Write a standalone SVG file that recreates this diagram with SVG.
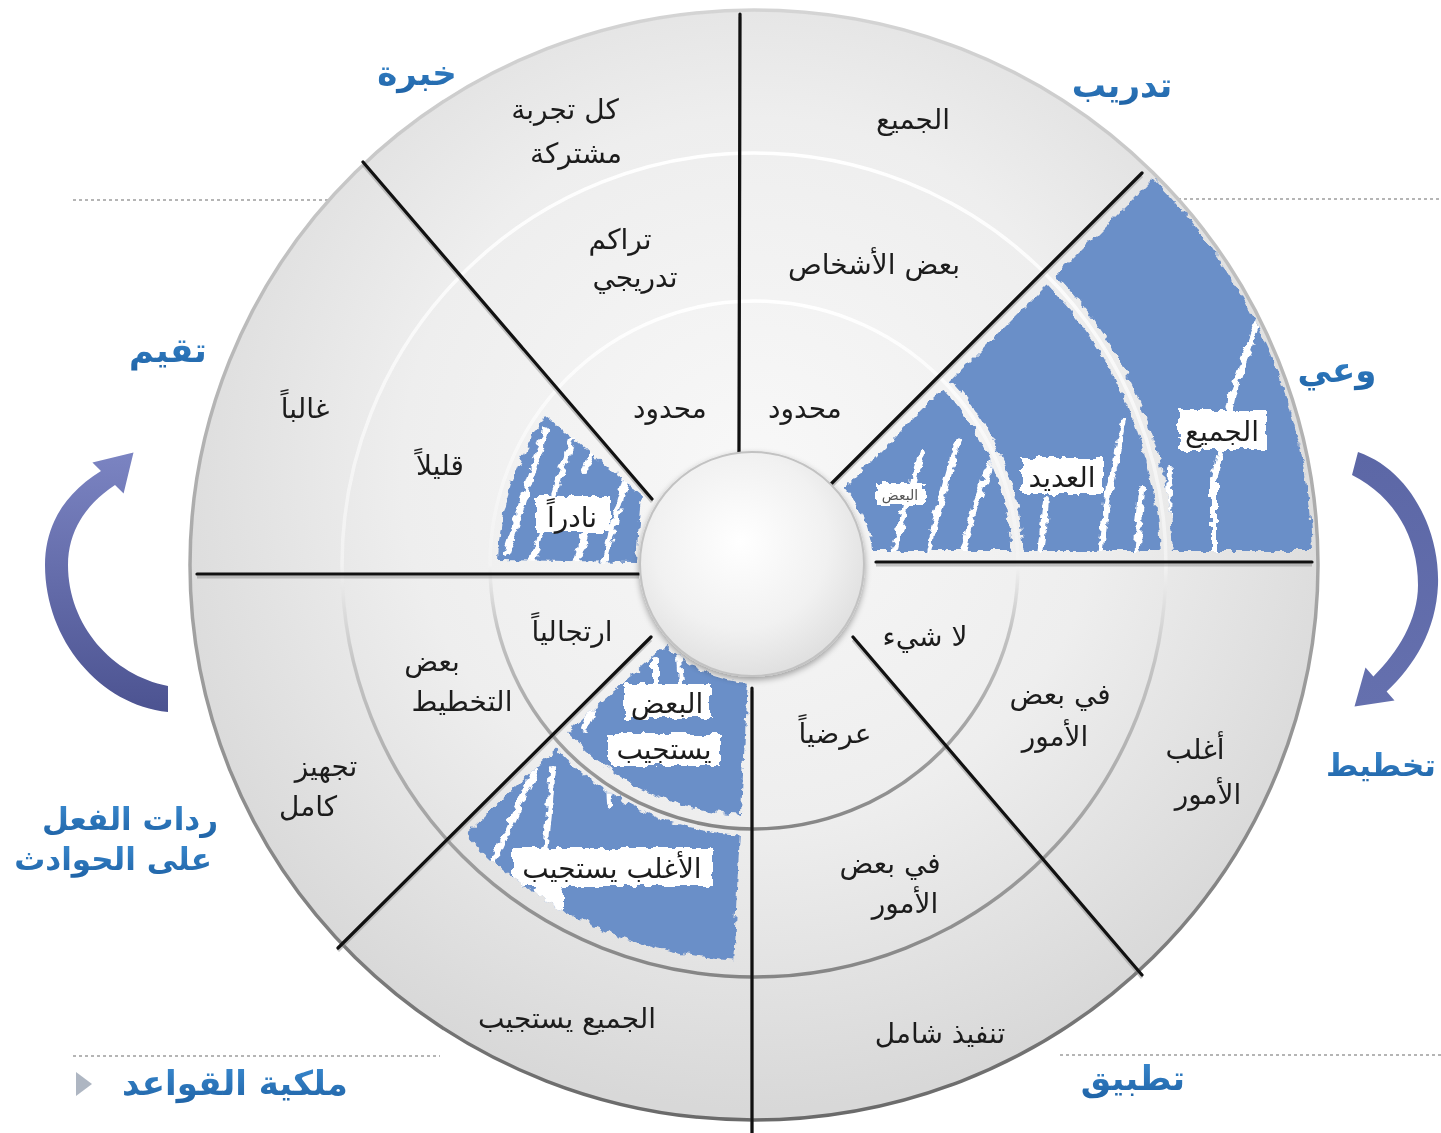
<svg xmlns="http://www.w3.org/2000/svg" width="1441" height="1133" viewBox="0 0 1441 1133">
<style>
.lbl{font-family:"DejaVu Sans","Noto Sans",sans-serif;font-size:28px;fill:#1c1c1c;text-anchor:middle}
.hd{font-family:"DejaVu Sans","Noto Sans",sans-serif;font-size:34px;font-weight:bold;fill:url(#hdGrad);text-anchor:middle}
.sep{stroke:#111;stroke-width:3.2;stroke-linecap:round}
.sepsh{stroke:#8a8a8a;stroke-width:3;opacity:.45}
.ring{fill:none;stroke:url(#ringStroke);stroke-width:3.5}
.blue{fill:#6b8fc8}
.streak{fill:none;stroke:#fff;stroke-width:6;stroke-linecap:round;stroke-linejoin:round}
.dots{stroke:#b5b5b5;stroke-width:2;stroke-dasharray:3 3}
.box{fill:#fff}
</style>
<defs>
<radialGradient id="discGrad" gradientUnits="userSpaceOnUse" cx="754" cy="470" r="640">
<stop offset="0" stop-color="#f8f8f8"/><stop offset="0.55" stop-color="#eeeeee"/><stop offset="1" stop-color="#d8d8d8"/>
</radialGradient>
<linearGradient id="ringStroke" x1="0" y1="0" x2="0" y2="1">
<stop offset="0" stop-color="#ffffff"/><stop offset="0.5" stop-color="#f2f2f2"/><stop offset="0.62" stop-color="#c4c4c4"/><stop offset="1" stop-color="#858585"/>
</linearGradient>
<linearGradient id="edgeStroke" x1="0" y1="0" x2="0" y2="1">
<stop offset="0" stop-color="#d4d4d4"/><stop offset="0.5" stop-color="#a8a8a8"/><stop offset="1" stop-color="#6a6a6a"/>
</linearGradient>
<radialGradient id="hubGrad" cx="0.45" cy="0.4" r="0.65">
<stop offset="0" stop-color="#ffffff"/><stop offset="0.6" stop-color="#f1f1f1"/><stop offset="1" stop-color="#dcdcdc"/>
</radialGradient>
<linearGradient id="hdGrad" x1="0" y1="0" x2="0" y2="1">
<stop offset="0" stop-color="#3a8ad0"/><stop offset="1" stop-color="#1f63a6"/>
</linearGradient>
<linearGradient id="arrL" x1="0" y1="0" x2="0" y2="1">
<stop offset="0" stop-color="#7b84c2"/><stop offset="1" stop-color="#4c5391"/>
</linearGradient>
<linearGradient id="arrR" x1="0" y1="0" x2="0" y2="1">
<stop offset="0" stop-color="#5c67a6"/><stop offset="1" stop-color="#6570ae"/>
</linearGradient>
<filter id="rough" x="-10%" y="-10%" width="120%" height="120%">
<feTurbulence type="fractalNoise" baseFrequency="0.13" numOctaves="2" seed="3" result="n"/>
<feDisplacementMap in="SourceGraphic" in2="n" scale="9" xChannelSelector="R" yChannelSelector="G"/>
</filter>
<filter id="hubShadow" x="-20%" y="-20%" width="140%" height="140%">
<feDropShadow dx="0" dy="3" stdDeviation="3" flood-color="#000" flood-opacity="0.35"/>
</filter>
<clipPath id="cS1"><path d="M844.4,487.6 L942.8,389.2 A258,258 0 0 1 1011.6,551 L872.2,551 A119,119 0 0 0 844.4,487.6 Z"/></clipPath>
<clipPath id="cS2"><path d="M951.3,380.7 L1047.5,284.5 A406,406 0 0 1 1159.8,551 L1023.6,551 A270,270 0 0 0 951.3,380.7 Z"/></clipPath>
<clipPath id="cS3"><path d="M1056.7,275.3 L1153.6,178.4 A556,556 0 0 1 1313,551 L1172.8,551 A419,419 0 0 0 1056.7,275.3 Z"/></clipPath>
<clipPath id="cS4"><path d="M747.8,682.8 L740.9,814.7 A250,250 0 0 1 568.2,732.3 L666.3,644 A118,118 0 0 0 747.8,682.8 Z"/></clipPath>
<clipPath id="cS5"><path d="M739.9,834.6 L733.3,959.5 A395,395 0 0 1 465.1,834.4 L556.5,749.1 A270,270 0 0 0 739.9,834.6 Z"/></clipPath>
<clipPath id="cS6"><path d="M636,562 L498,560 A256,256 0 0 1 546,416 L641,494 Z"/></clipPath>
</defs>

<rect width="1441" height="1133" fill="#ffffff"/>

<g id="guides">
<line class="dots" x1="73" y1="200" x2="332" y2="200"/>
<line class="dots" x1="1172" y1="199" x2="1441" y2="199"/>
<line class="dots" x1="73" y1="1056" x2="440" y2="1056"/>
<line class="dots" x1="1060" y1="1055" x2="1441" y2="1055"/>
</g>

<g id="disc">
<ellipse cx="754" cy="565" rx="564" ry="555" fill="url(#discGrad)"/>
</g>

<g id="blue-fills" filter="url(#rough)">
<g clip-path="url(#cS1)">
<rect class="blue" x="830" y="370" width="200" height="200"/>
<path class="streak" d="M893,556 L906,505 L922,452"/>
<path class="streak" d="M927,556 L941,500 L958,440"/>
<path class="streak" d="M962,556 L975,505 L992,462"/>
<rect class="box" x="876" y="483" width="48" height="22"/>
</g>
<g clip-path="url(#cS2)">
<rect class="blue" x="940" y="270" width="240" height="300"/>
<path class="streak" d="M1040,556 L1046,500"/>
<path class="streak" d="M1100,556 L1108,495 L1124,420"/>
<path class="streak" d="M1136,556 L1142,490"/>
<rect class="box" x="1022" y="458" width="82" height="36"/>
</g>
<g clip-path="url(#cS3)">
<rect class="blue" x="1040" y="160" width="290" height="410"/>
<path class="streak" d="M1092,556 L1108,480 L1138,420"/>
<path class="streak" d="M1166,556 L1170,470"/>
<path class="streak" d="M1214,556 L1214,480 L1232,395 L1258,320"/>
<rect class="box" x="1178" y="410" width="88" height="40"/>
</g>
<g clip-path="url(#cS4)">
<rect class="blue" x="550" y="630" width="210" height="200"/>
<path class="streak" d="M655,660 L655,684"/>
<path class="streak" d="M679,658 L681,684"/>
<path class="streak" d="M596,700 L585,728"/>
<rect class="box" x="624" y="684" width="86" height="34"/>
<rect class="box" x="608" y="734" width="112" height="32"/>
</g>
<g clip-path="url(#cS5)">
<rect class="blue" x="450" y="740" width="300" height="230"/>
<path class="streak" d="M483,885 L535,770"/>
<path class="streak" d="M540,905 L553,770"/>
<path class="streak" d="M608,755 L610,805"/>
<path class="streak" d="M548,960 L548,895" style="stroke-width:30"/>
<rect class="box" x="512" y="848" width="200" height="38"/>
</g>
<g clip-path="url(#cS6)">
<rect class="blue" x="490" y="400" width="160" height="170"/>
<path class="streak" d="M506,553 L546,430"/>
<path class="streak" d="M532,563 L572,440"/>
<path class="streak" d="M576,563 L592,515"/>
<path class="streak" d="M604,562 L628,470"/>
<path class="streak" d="M585,470 L600,430"/>
<rect class="box" x="536" y="496" width="74" height="36"/>
</g>
</g>

<g id="rings">
<circle class="ring" cx="754" cy="565" r="264"/>
<circle class="ring" cx="754" cy="565" r="412"/>
<ellipse cx="754" cy="565" rx="564" ry="555" fill="none" stroke="url(#edgeStroke)" stroke-width="3.5"/>
</g>

<g id="connectors">
<g transform="translate(0,3)">
<line class="sepsh" x1="740" y1="14" x2="739" y2="452"/>
<line class="sepsh" x1="752" y1="688" x2="752" y2="1133"/>
<line class="sepsh" x1="828" y1="487" x2="1142" y2="173"/>
<line class="sepsh" x1="876" y1="562" x2="1312" y2="562"/>
<line class="sepsh" x1="853" y1="637" x2="1142" y2="975"/>
<line class="sepsh" x1="651" y1="637" x2="338" y2="948"/>
<line class="sepsh" x1="197" y1="574" x2="639" y2="574"/>
<line class="sepsh" x1="363" y1="162" x2="652" y2="499"/>
</g>
<line class="sep" x1="740" y1="14" x2="739" y2="452"/>
<line class="sep" x1="752" y1="688" x2="752" y2="1133"/>
<line class="sep" x1="828" y1="487" x2="1142" y2="173"/>
<line class="sep" x1="876" y1="562" x2="1312" y2="562"/>
<line class="sep" x1="853" y1="637" x2="1142" y2="975"/>
<line class="sep" x1="651" y1="637" x2="338" y2="948"/>
<line class="sep" x1="197" y1="574" x2="639" y2="574"/>
<line class="sep" x1="363" y1="162" x2="652" y2="499"/>
</g>

<g id="hub">
<circle cx="752" cy="564" r="112" fill="url(#hubGrad)" stroke="#c2c2c2" stroke-width="2" filter="url(#hubShadow)"/>
</g>

<g id="sector-tadreeb">
<text class="lbl" x="913" y="129">الجميع</text>
<text class="lbl" x="874" y="274">بعض الأشخاص</text>
<text class="lbl" x="805" y="418">محدود</text>
</g>
<g id="sector-khibra">
<text class="lbl" x="565" y="119">كل تجربة</text>
<text class="lbl" x="576" y="163">مشتركة</text>
<text class="lbl" x="620" y="249">تراكم</text>
<text class="lbl" x="635" y="287">تدريجي</text>
<text class="lbl" x="670" y="418">محدود</text>
</g>
<g id="sector-taqyeem">
<text class="lbl" x="305" y="418">غالباً</text>
<text class="lbl" x="440" y="475">قليلاً</text>
<text class="lbl" x="572" y="527">نادراً</text>
</g>
<g id="sector-raddat">
<text class="lbl" x="572" y="641">ارتجالياً</text>
<text class="lbl" x="432" y="671">بعض</text>
<text class="lbl" x="462" y="711">التخطيط</text>
<text class="lbl" x="326" y="776">تجهيز</text>
<text class="lbl" x="308" y="816">كامل</text>
</g>
<g id="sector-milkiya">
<text class="lbl" x="667" y="713">البعض</text>
<text class="lbl" x="664" y="759">يستجيب</text>
<text class="lbl" x="612" y="878">الأغلب يستجيب</text>
<text class="lbl" x="567" y="1028">الجميع يستجيب</text>
</g>
<g id="sector-tatbeeq">
<text class="lbl" x="835" y="743">عرضياً</text>
<text class="lbl" x="890" y="873">في بعض</text>
<text class="lbl" x="905" y="913">الأمور</text>
<text class="lbl" x="940" y="1043">تنفيذ شامل</text>
</g>
<g id="sector-takhteet">
<text class="lbl" x="925" y="646">لا شيء</text>
<text class="lbl" x="1060" y="704">في بعض</text>
<text class="lbl" x="1055" y="746">الأمور</text>
<text class="lbl" x="1195" y="759">أغلب</text>
<text class="lbl" x="1208" y="804">الأمور</text>
</g>
<g id="sector-waay">
<text class="lbl" x="1222" y="441">الجميع</text>
<text class="lbl" x="1062" y="487">العديد</text>
<text class="lbl" x="900" y="500" style="font-size:14px;fill:#555">البعض</text>
</g>

<g id="arrows">
<path d="M168,712 C100,705 45,640 45,565 C45,525 65,493 101,471 L92.4,462.4 L133.5,452.5 L123.6,493.6 L115,485 C85,505 68,532 68,565 C68,625 112,675 168,686 Z" fill="url(#arrL)"/>
<path d="M1358,452 C1410,470 1440,530 1438,585 C1436,630 1415,665 1386.6,691.5 L1394.5,700.5 L1354.5,706.4 L1365.5,667.5 L1373.4,676.5 C1398,652 1418,620 1418,585 C1418,535 1392,495 1352,475 Z" fill="url(#arrR)"/>
</g>

<g id="headings">
<text class="hd" x="1122" y="97">تدريب</text>
<text class="hd" x="417" y="85">خبرة</text>
<text class="hd" x="1337" y="382">وعي</text>
<text class="hd" x="168" y="362">تقيم</text>
<text class="hd" x="1436" y="776" style="text-anchor:end;font-size:31px">تخطيط</text>
<text class="hd" x="130" y="830" style="font-size:31px">ردات الفعل</text>
<text class="hd" x="113" y="870" style="font-size:31px">على الحوادث</text>
<text class="hd" x="235" y="1095">ملكية القواعد</text>
<text class="hd" x="1133" y="1090">تطبيق</text>
<polygon points="76,1072 92,1084 76,1096" fill="#aeb6c2"/>
</g>
</svg>
